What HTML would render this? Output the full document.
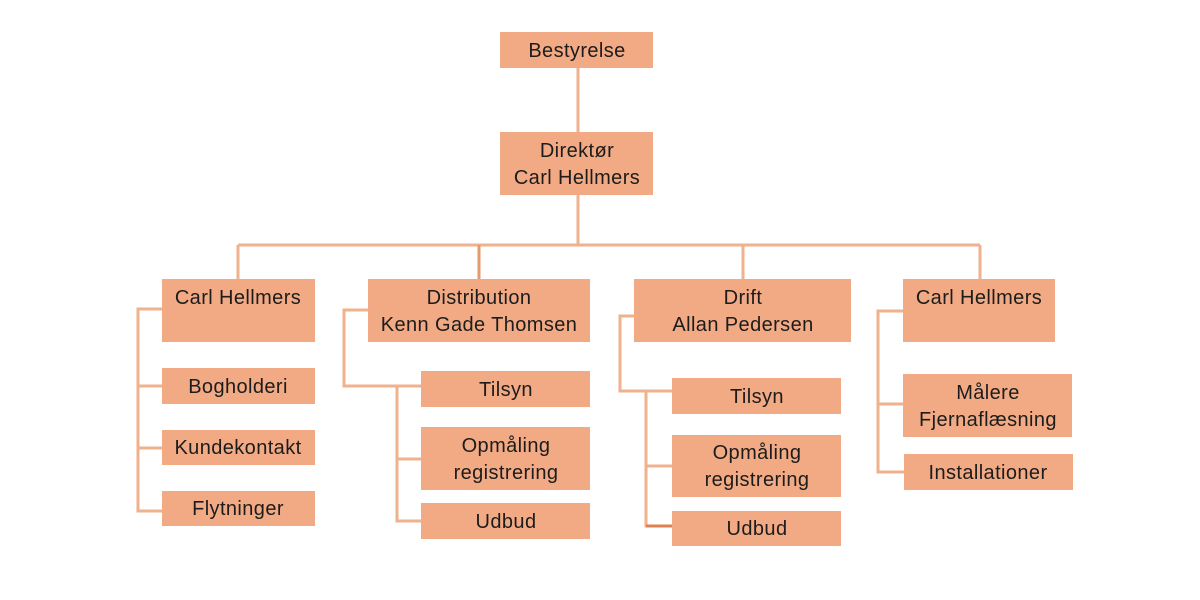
<!DOCTYPE html>
<html><head><meta charset="utf-8"><style>
html,body{margin:0;padding:0;background:#fff;}
svg{display:block;}
text{font-family:"Liberation Sans",sans-serif;font-size:20px;letter-spacing:0.4px;fill:#1c1c1c;text-anchor:middle;}
</style></head><body>
<svg width="1200" height="600" viewBox="0 0 1200 600">
<g stroke="#efb28d" stroke-width="3" fill="none">
<line x1="578" y1="68" x2="578" y2="132"/>
<line x1="578" y1="195" x2="578" y2="245"/>
<line x1="238" y1="245" x2="980" y2="245"/>
<line x1="238" y1="245" x2="238" y2="279"/>
<line x1="479" y1="245" x2="479" y2="279" stroke="#e69a6c"/>
<line x1="743" y1="245" x2="743" y2="279"/>
<line x1="980" y1="245" x2="980" y2="279"/>
<polyline points="162,309 138,309 138,511 162,511"/>
<line x1="138" y1="386" x2="162" y2="386"/>
<line x1="138" y1="448" x2="162" y2="448"/>
<polyline points="368,310 344,310 344,386 421,386"/>
<polyline points="397,386 397,521 421,521"/>
<line x1="397" y1="459" x2="421" y2="459"/>
<polyline points="634,316 620,316 620,391 672,391"/>
<polyline points="646,391 646,526 672,526"/>
<line x1="646" y1="466" x2="672" y2="466"/>
<line x1="646" y1="526" x2="672" y2="526" stroke="#e08050"/>
<polyline points="903,311 878,311 878,472 904,472"/>
<line x1="878" y1="404" x2="903" y2="404"/>
</g>
<g fill="#f2aa84">
<rect x="500" y="32" width="153" height="36"/>
<rect x="500" y="132" width="153" height="63"/>
<rect x="162" y="279" width="153" height="63"/>
<rect x="162" y="368" width="153" height="36"/>
<rect x="162" y="430" width="153" height="35"/>
<rect x="162" y="491" width="153" height="35"/>
<rect x="368" y="279" width="222" height="63"/>
<rect x="421" y="371" width="169" height="36"/>
<rect x="421" y="427" width="169" height="63"/>
<rect x="421" y="503" width="169" height="36"/>
<rect x="634" y="279" width="217" height="63"/>
<rect x="672" y="378" width="169" height="36"/>
<rect x="672" y="435" width="169" height="62"/>
<rect x="672" y="511" width="169" height="35"/>
<rect x="903" y="279" width="152" height="63"/>
<rect x="903" y="374" width="169" height="63"/>
<rect x="904" y="454" width="169" height="36"/>
</g>
<text x="577" y="57">Bestyrelse</text>
<text x="577" y="157">Direktør</text>
<text x="577" y="184">Carl Hellmers</text>
<text x="238" y="304">Carl Hellmers</text>
<text x="238" y="393">Bogholderi</text>
<text x="238" y="454">Kundekontakt</text>
<text x="238" y="515">Flytninger</text>
<text x="479" y="304">Distribution</text>
<text x="479" y="331">Kenn Gade Thomsen</text>
<text x="506" y="396">Tilsyn</text>
<text x="506" y="452">Opmåling</text>
<text x="506" y="479">registrering</text>
<text x="506" y="528">Udbud</text>
<text x="743" y="304">Drift</text>
<text x="743" y="331">Allan Pedersen</text>
<text x="757" y="403">Tilsyn</text>
<text x="757" y="459">Opmåling</text>
<text x="757" y="486">registrering</text>
<text x="757" y="535">Udbud</text>
<text x="979" y="304">Carl Hellmers</text>
<text x="988" y="399">Målere</text>
<text x="988" y="426">Fjernaflæsning</text>
<text x="988" y="479">Installationer</text>
</svg>
</body></html>
